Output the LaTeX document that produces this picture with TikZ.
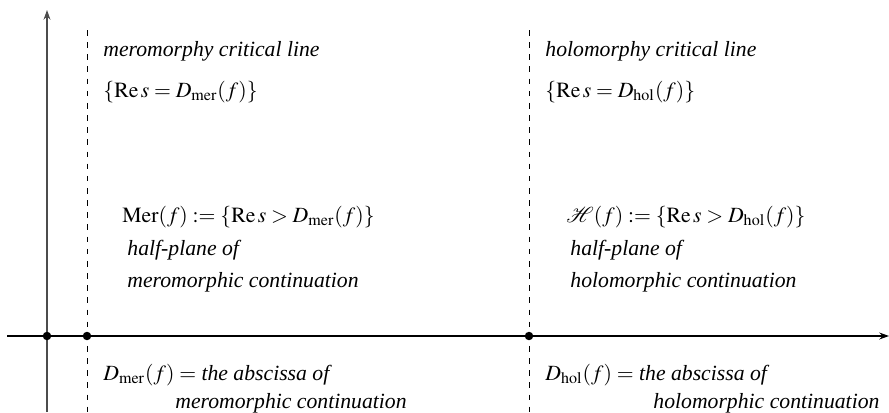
\documentclass[tikz,border=0pt]{standalone}
\usepackage{mathptmx}
\usepackage{mathrsfs}
\usepackage[no-math]{fontspec}
\setmainfont{Liberation Serif}
\usetikzlibrary{arrows.meta,positioning}

\begin{document}
\begin{tikzpicture}[
    x=0.4608pt, y=-0.4608pt,
    lbl/.style={anchor=base west,inner sep=0pt,font=\itshape},
    mth/.style={anchor=base west,inner sep=0pt},
    dot/.style={circle,fill,inner sep=0pt,minimum size=3.9pt},
    crit/.style={dash pattern=on 2.6pt off 3pt,line width=0.45pt},
    axis/.style={line width=0.55pt,-{Stealth[length=4.5pt,width=3.2pt]}}
]
\useasboundingbox (0,0) rectangle (889,412);
% Axes
\coordinate (xl) at (7,336);
\coordinate (xr) at (889,336);
\coordinate (yb) at (47,412);
\coordinate (yt) at (47,10);
\draw[axis] (xl) -- (xr);
\draw[axis,gray!60!black] (yb) -- (yt);

% Critical lines
\coordinate (mtop) at (87,30);
\coordinate (mbot) at (87,412);
\coordinate (htop) at (529,30);
\coordinate (hbot) at (529,412);
\draw[crit] (mtop) -- (mbot);
\draw[crit] (htop) -- (hbot);
\node[dot] (o) at (47,336) {};
\node[dot] (dmer) at (87,336) {};
\node[dot] (dhol) at (529,336) {};

% Meromorphy side
\node[lbl] (mcrit) at (103,56) {meromorphy critical line};
\node[mth] (mline) at (103,97) {$\{\mathrm{Re}\,s=D_{\mathrm{mer}}(f)\}$};
\node[mth] (mset) at (122,222) {$\mathrm{Mer}(f):=\{\mathrm{Re}\,s>D_{\mathrm{mer}}(f)\}$};
\node[lbl] (mhalf) at (127,255) {half-plane of};
\node[lbl] (mcont) at (127,287) {meromorphic continuation};
\node[mth] (mabs) at (103,380) {$D_{\mathrm{mer}}(f)=$ \textit{the abscissa of}};
\node[lbl] (mabs2) at (175,408) {meromorphic continuation};

% Holomorphy side
\node[lbl] (hcrit) at (545,56) {holomorphy critical line};
\node[mth] (hline) at (545,97) {$\{\mathrm{Re}\,s=D_{\mathrm{hol}}(f)\}$};
\node[mth] (hset) at (566,222) {$\mathscr{H}(f):=\{\mathrm{Re}\,s>D_{\mathrm{hol}}(f)\}$};
\node[lbl] (hhalf) at (570,255) {half-plane of};
\node[lbl] (hcont) at (570,287) {holomorphic continuation};
\node[mth] (habs) at (545,380) {$D_{\mathrm{hol}}(f)=$ \textit{the abscissa of}};
\node[lbl] (habs2) at (653,408) {holomorphic continuation};
\end{tikzpicture}
\end{document}
